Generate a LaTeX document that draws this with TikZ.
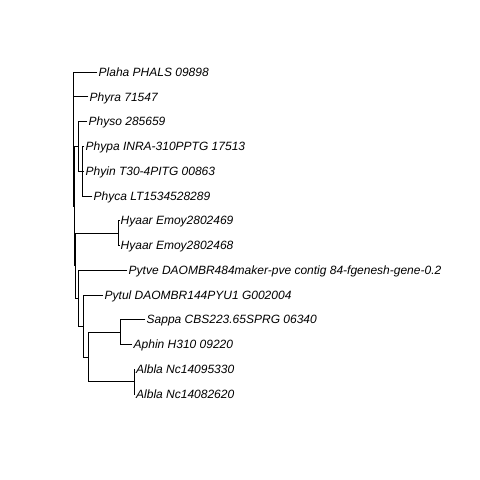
\documentclass[tikz,border=0pt]{standalone}
\usepackage{fontspec}
\setmainfont{Liberation Sans}
\begin{document}
\begin{tikzpicture}[x=1pt,y=-1pt,
  edge/.style={draw=black,line width=0.8pt,line cap=rect},
  tip/.style={anchor=base west,inner sep=0pt,font=\fontsize{12}{14}\selectfont\itshape}]
\fill[white] (0,0) rectangle (480,480);
\useasboundingbox (0,0) rectangle (480,480);
% internal nodes
\coordinate (R)  at (73,124.9);
\coordinate (N1) at (74,205.9);
\coordinate (Pc) at (78,146.3);
\coordinate (P3) at (82.5,171.1);
\coordinate (N2) at (75,265.5);
\coordinate (H)  at (118.5,233.0);
\coordinate (Q0) at (78,298.0);
\coordinate (Q1) at (83,325.9);
\coordinate (Q2) at (88,356.9);
\coordinate (SA) at (120.5,332.1);
\coordinate (AL) at (134,381.6);
% tips
\coordinate (t1)  at (97,72.0);
\coordinate (t2)  at (88,96.8);
\coordinate (t3)  at (87,121.5);
\coordinate (t4)  at (84,146.3);
\coordinate (t5)  at (84,171.1);
\coordinate (t6)  at (92,195.9);
\coordinate (t7)  at (119,220.6);
\coordinate (t8)  at (119,245.4);
\coordinate (t9)  at (127,270.2);
\coordinate (t10) at (103,294.9);
\coordinate (t11) at (145,319.7);
\coordinate (t12) at (132,344.5);
\coordinate (t13) at (134.5,369.2);
\coordinate (t14) at (134.5,394.0);
% tip labels
\node[tip] (l1)  at ([shift={(1.5,4.2)}]t1)  {Plaha PHALS 09898};
\node[tip] (l2)  at ([shift={(1.5,4.2)}]t2)  {Phyra 71547};
\node[tip] (l3)  at ([shift={(1.5,4.2)}]t3)  {Physo 285659};
\node[tip] (l4)  at ([shift={(1.5,4.2)}]t4)  {Phypa INRA-310PPTG 17513};
\node[tip] (l5)  at ([shift={(1.5,4.2)}]t5)  {Phyin T30-4PITG 00863};
\node[tip] (l6)  at ([shift={(1.5,4.2)}]t6)  {Phyca LT1534528289};
\node[tip] (l7)  at ([shift={(1.5,4.2)}]t7)  {Hyaar Emoy2802469};
\node[tip] (l8)  at ([shift={(1.5,4.2)}]t8)  {Hyaar Emoy2802468};
\node[tip] (l9)  at ([shift={(1.5,4.2)}]t9)  {Pytve DAOMBR484maker-pve contig 84-fgenesh-gene-0.2};
\node[tip] (l10) at ([shift={(1.5,4.2)}]t10) {Pytul DAOMBR144PYU1 G002004};
\node[tip] (l11) at ([shift={(1.5,4.2)}]t11) {Sappa CBS223.65SPRG 06340};
\node[tip] (l12) at ([shift={(1.5,4.2)}]t12) {Aphin H310 09220};
\node[tip] (l13) at ([shift={(1.5,4.2)}]t13) {Albla Nc14095330};
\node[tip] (l14) at ([shift={(1.5,4.2)}]t14) {Albla Nc14082620};
% rectangular edges
\draw[edge] (R) |- (t1);
\draw[edge] (R) |- (t2);
\draw[edge] (R) |- (N1);
\draw[edge] (N1) |- (Pc);
\draw[edge] (N1) |- (N2);
\draw[edge] (Pc) |- (t3);
\draw[edge] (Pc) |- (P3);
\draw[edge] (P3) |- (t4);
\draw[edge] (P3) |- (t5);
\draw[edge] (P3) |- (t6);
\draw[edge] (N2) |- (H);
\draw[edge] (N2) |- (Q0);
\draw[edge] (H) |- (t7);
\draw[edge] (H) |- (t8);
\draw[edge] (Q0) |- (t9);
\draw[edge] (Q0) |- (Q1);
\draw[edge] (Q1) |- (t10);
\draw[edge] (Q1) |- (Q2);
\draw[edge] (Q2) |- (SA);
\draw[edge] (Q2) |- (AL);
\draw[edge] (SA) |- (t11);
\draw[edge] (SA) |- (t12);
\draw[edge] (AL) |- (t13);
\draw[edge] (AL) |- (t14);
\end{tikzpicture}
\end{document}
